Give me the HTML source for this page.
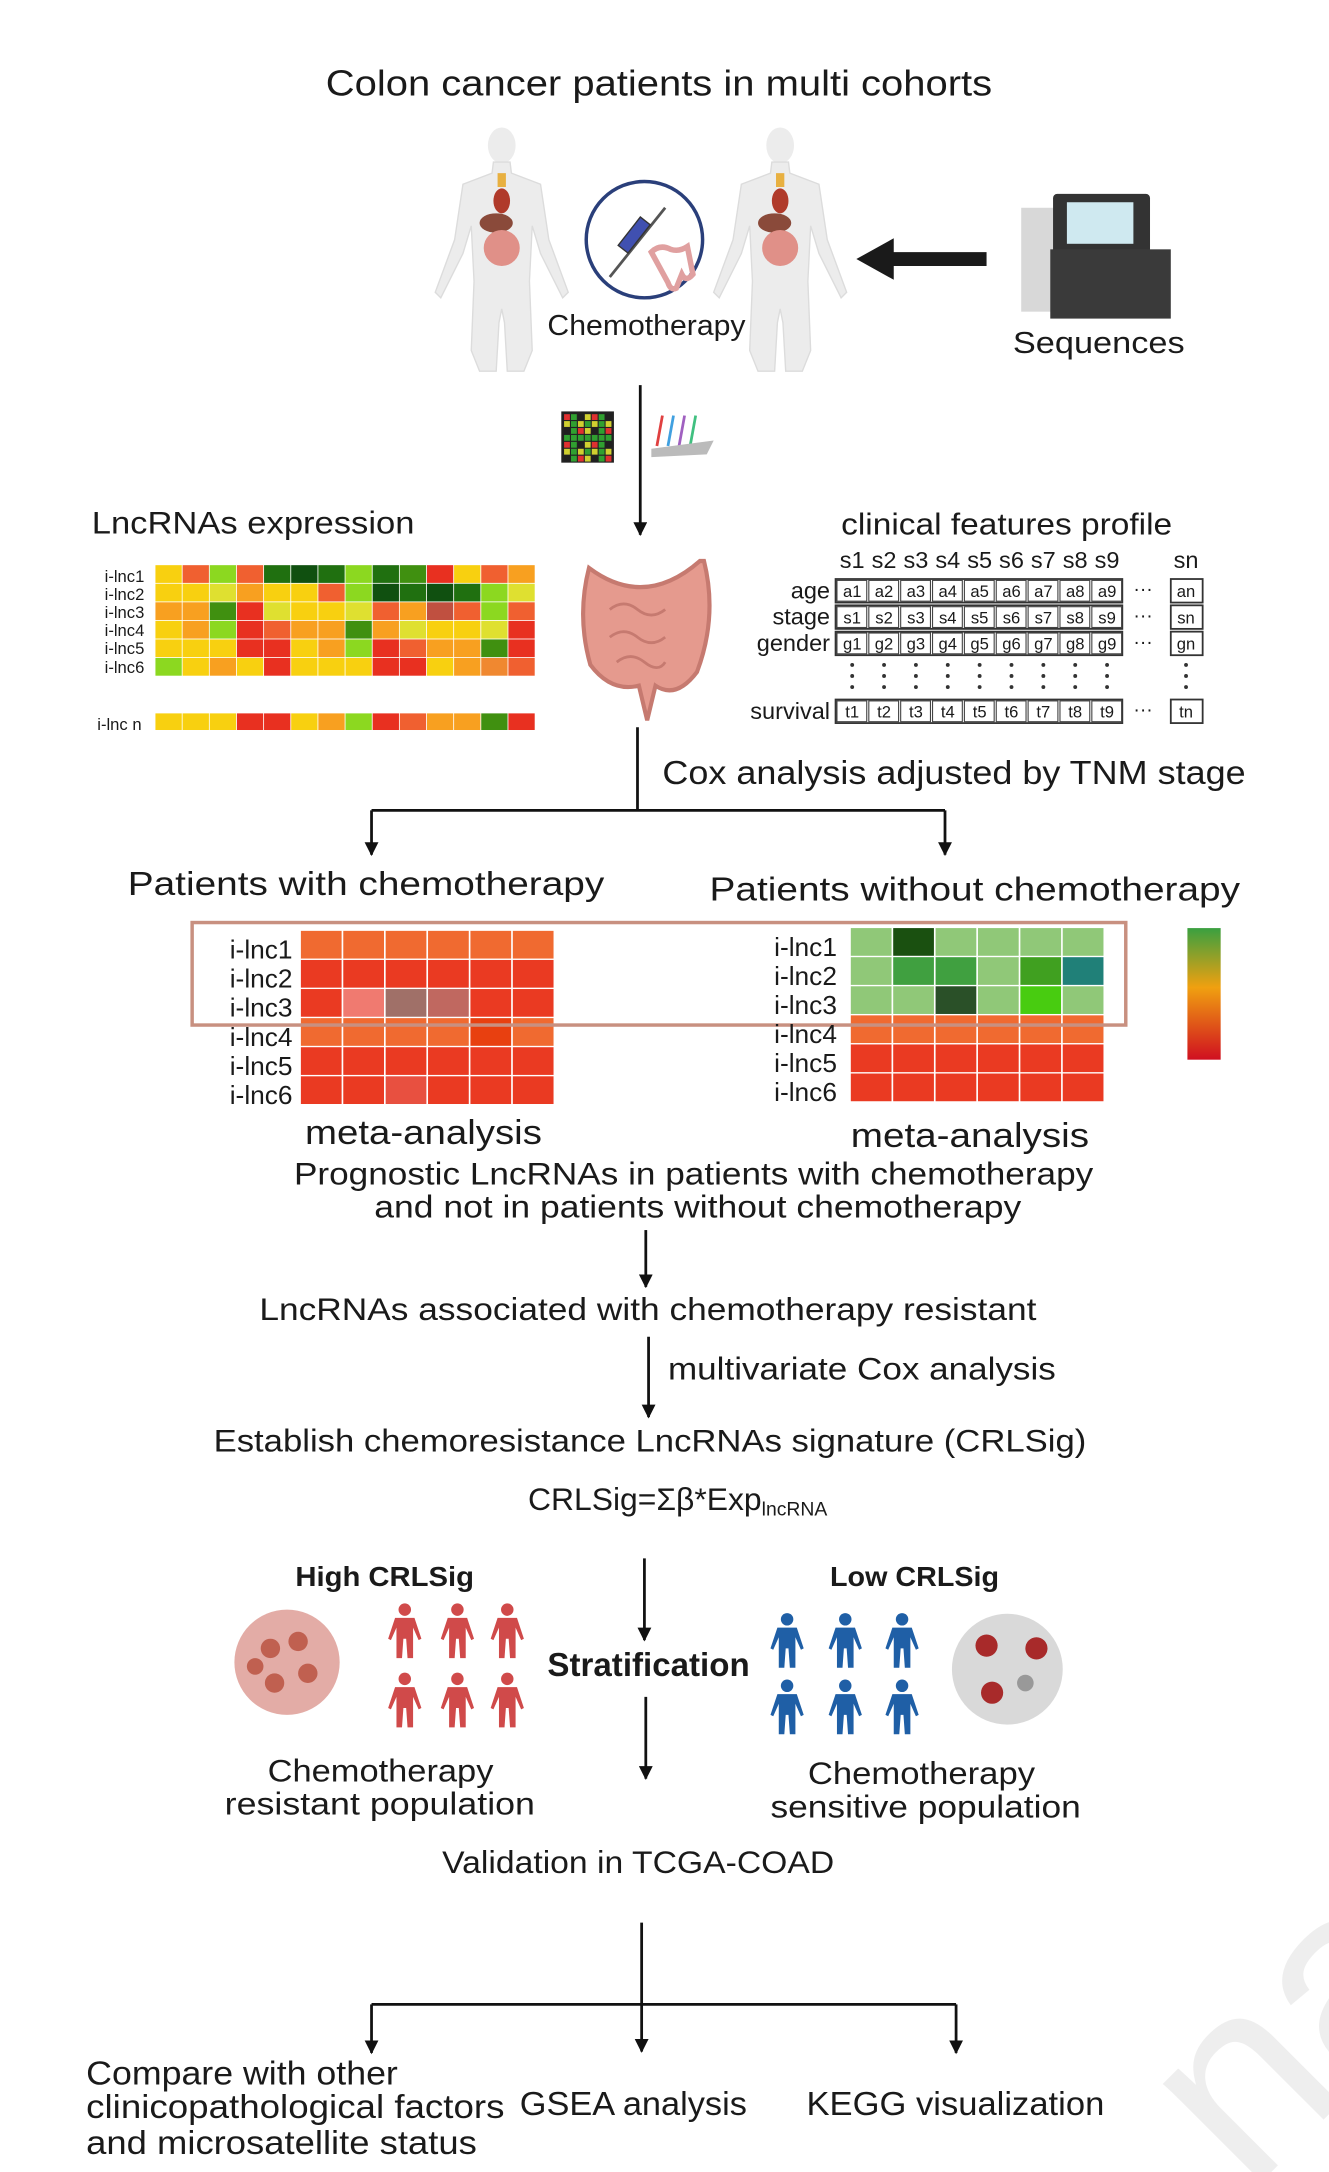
<!DOCTYPE html>
<html><head><meta charset="utf-8">
<style>
html,body{margin:0;padding:0;background:#fff;}
svg{display:block;}
text{font-family:"Liberation Sans",sans-serif;fill:#1a1a1a;}
</style></head><body>
<svg id="s" width="1329" height="2172" viewBox="0 0 959 1568" xmlns="http://www.w3.org/2000/svg">
<defs>
<marker id="ah" markerWidth="10" markerHeight="10" refX="9" refY="5" orient="auto" markerUnits="userSpaceOnUse">
<path d="M0,0 L10,5 L0,10 Z" fill="#111"/></marker>
<linearGradient id="gb" x1="0" y1="0" x2="0" y2="1">
<stop offset="0" stop-color="#3aa040"/><stop offset="0.45" stop-color="#f0a010"/><stop offset="1" stop-color="#d01020"/></linearGradient>
<g id="body">
<ellipse cx="0" cy="12" rx="10" ry="13" fill="#ececec"/>
<path d="M-6,24 L6,24 L7,32 L28,40 L34,80 L48,118 L44,122 L28,90 L22,70 L20,110 L22,160 L16,175 L4,175 L2,140 L0,130 L-2,140 L-4,175 L-16,175 L-22,160 L-20,110 L-22,70 L-28,90 L-44,122 L-48,118 L-34,80 L-28,40 L-7,32 Z" fill="#ececec" stroke="#dcdcdc" stroke-width="1"/>
<ellipse cx="0" cy="52" rx="6" ry="9" fill="#b03a2a"/>
<ellipse cx="-4" cy="68" rx="12" ry="7" fill="#8a4a3a"/>
<ellipse cx="0" cy="86" rx="13" ry="13" fill="#e09088"/>
<rect x="-3" y="32" width="6" height="10" fill="#e8b040"/>
</g>
<g id="pr"><circle cx="0" cy="-13" r="4.5"/><path d="M-7,-7 L7,-7 L12,8 L10,9 L6,0 L6,22 L2,22 L1,8 L-1,8 L-2,22 L-6,22 L-6,0 L-10,9 L-12,8 Z"/></g>
</defs>

<text x="235" y="69" font-size="26" textLength="481" lengthAdjust="spacingAndGlyphs">Colon cancer patients in multi cohorts</text>
<use href="#body" x="362" y="93"/>
<use href="#body" x="563" y="93"/>
<circle cx="465" cy="173" r="42" fill="#fff" stroke="#2a3f7a" stroke-width="2.5"/>
<line x1="440" y1="200" x2="480" y2="150" stroke="#555" stroke-width="2"/>
<rect x="445" y="165" width="26" height="9" transform="rotate(-52 458 170)" fill="#4050b0" stroke="#333"/>
<path d="M470,182 q6,-6 14,-2 q6,2 12,-2 l4,20 q-5,6 -8,0 l-4,10 q-4,2 -6,-4 z" fill="none" stroke="#e0a0a0" stroke-width="4"/>
<text x="395" y="242" font-size="21" textLength="143" lengthAdjust="spacingAndGlyphs">Chemotherapy</text>
<path d="M712,182 L645,182 L645,172 L618,187 L645,202 L645,192 L712,192 Z" fill="#1a1a1a"/>
<rect x="737" y="150" width="28" height="75" fill="#d8d8d8"/>
<rect x="760" y="140" width="70" height="45" rx="3" fill="#333"/>
<rect x="770" y="146" width="48" height="30" fill="#cfe9f0"/>
<rect x="758" y="180" width="87" height="50" fill="#3a3a3a"/>
<text x="731" y="255" font-size="22" textLength="124" lengthAdjust="spacingAndGlyphs">Sequences</text>

<line x1="462" y1="278" x2="462" y2="386" stroke="#111" stroke-width="2" marker-end="url(#ah)"/>
<g id="micro"></g>
<g transform="translate(470,300)" stroke-width="2"><line x1="8" y1="0" x2="4" y2="22" stroke="#e04040"/><line x1="16" y1="0" x2="12" y2="22" stroke="#40a0e0"/><line x1="24" y1="0" x2="20" y2="22" stroke="#a060c0"/><line x1="32" y1="0" x2="28" y2="22" stroke="#40c080"/><path d="M0,24 L45,18 L40,28 L0,30Z" fill="#bbb" stroke="none"/></g>

<text x="66" y="385" font-size="23" textLength="233" lengthAdjust="spacingAndGlyphs">LncRNAs expression</text>
<g font-size="12" text-anchor="end">
<text x="104" y="420">i-lnc1</text><text x="104" y="433">i-lnc2</text><text x="104" y="446">i-lnc3</text><text x="104" y="459">i-lnc4</text><text x="104" y="472">i-lnc5</text><text x="104" y="486">i-lnc6</text><text x="102" y="527">i-lnc n</text></g>
<g id="hm1"></g>
<g>
<path d="M425,410 q40,30 80,-5 l3,0 q10,40 -5,80 q-15,20 -30,10 l-6,25 l-6,-25 q-20,5 -35,-15 q-10,-35 -1,-70z" fill="#e59a8e" stroke="#c67a70" stroke-width="3"/>
<path d="M440,440 q10,-8 20,0 q10,8 20,0 M440,460 q10,-8 20,0 q10,8 20,0 M445,478 q10,-8 20,0 q10,8 15,0" stroke="#c67a70" stroke-width="2" fill="none"/>
</g>
<text x="607" y="386" font-size="22" textLength="239" lengthAdjust="spacingAndGlyphs">clinical features profile</text>
<g id="clin" font-size="17"></g>

<line x1="460" y1="525" x2="460" y2="585" stroke="#111" stroke-width="2"/>
<line x1="268" y1="585" x2="682" y2="585" stroke="#111" stroke-width="2"/>
<line x1="268" y1="585" x2="268" y2="617" stroke="#111" stroke-width="2" marker-end="url(#ah)"/>
<line x1="682" y1="585" x2="682" y2="617" stroke="#111" stroke-width="2" marker-end="url(#ah)"/>
<text x="478" y="566" font-size="24" textLength="421" lengthAdjust="spacingAndGlyphs">Cox analysis adjusted by TNM stage</text>
<text x="92" y="646" font-size="24" textLength="344" lengthAdjust="spacingAndGlyphs">Patients with chemotherapy</text>
<text x="512" y="650" font-size="24" textLength="383" lengthAdjust="spacingAndGlyphs">Patients without chemotherapy</text>

<g id="hm2"></g>
<rect x="138.5" y="666" width="674" height="74" fill="none" stroke="#c89080" stroke-width="2.5"/>
<g font-size="19" text-anchor="end">
<text x="211" y="692">i-lnc1</text><text x="211" y="713">i-lnc2</text><text x="211" y="734">i-lnc3</text><text x="211" y="755">i-lnc4</text><text x="211" y="776">i-lnc5</text><text x="211" y="797">i-lnc6</text>
<text x="604" y="690">i-lnc1</text><text x="604" y="711">i-lnc2</text><text x="604" y="732">i-lnc3</text><text x="604" y="753">i-lnc4</text><text x="604" y="774">i-lnc5</text><text x="604" y="795">i-lnc6</text></g>
<rect x="857" y="670" width="24" height="95" fill="url(#gb)"/>
<text x="220" y="826" font-size="25" textLength="171" lengthAdjust="spacingAndGlyphs">meta-analysis</text>
<text x="614" y="828" font-size="25" textLength="172" lengthAdjust="spacingAndGlyphs">meta-analysis</text>
<text x="212" y="855" font-size="23" textLength="577" lengthAdjust="spacingAndGlyphs">Prognostic LncRNAs in patients with chemotherapy</text>
<text x="270" y="879" font-size="23" textLength="467" lengthAdjust="spacingAndGlyphs">and not in patients without chemotherapy</text>
<line x1="466" y1="888" x2="466" y2="929" stroke="#111" stroke-width="2" marker-end="url(#ah)"/>
<text x="187" y="953" font-size="23" textLength="561" lengthAdjust="spacingAndGlyphs">LncRNAs associated with chemotherapy resistant</text>
<line x1="468" y1="965" x2="468" y2="1023" stroke="#111" stroke-width="2" marker-end="url(#ah)"/>
<text x="482" y="996" font-size="23" textLength="280" lengthAdjust="spacingAndGlyphs">multivariate Cox analysis</text>
<text x="154" y="1048" font-size="23" textLength="630" lengthAdjust="spacingAndGlyphs">Establish chemoresistance LncRNAs signature (CRLSig)</text>
<text x="381" y="1090" font-size="23">CRLSig=Σβ*Exp<tspan font-size="14" dy="4">lncRNA</tspan></text>
<line x1="465" y1="1125" x2="465" y2="1184" stroke="#111" stroke-width="2" marker-end="url(#ah)"/>
<text x="213" y="1145" font-size="20" font-weight="bold" textLength="129" lengthAdjust="spacingAndGlyphs">High CRLSig</text>
<text x="599" y="1145" font-size="20" font-weight="bold" textLength="122" lengthAdjust="spacingAndGlyphs">Low CRLSig</text>
<text x="395" y="1210" font-size="24" font-weight="bold" textLength="146" lengthAdjust="spacingAndGlyphs">Stratification</text>
<line x1="466" y1="1225" x2="466" y2="1284" stroke="#111" stroke-width="2" marker-end="url(#ah)"/>
<g><circle cx="207" cy="1200" r="38" fill="#d99088" opacity="0.75"/><circle cx="195" cy="1190" r="7" fill="#c06050"/><circle cx="215" cy="1185" r="7" fill="#c06050"/><circle cx="222" cy="1208" r="7" fill="#c06050"/><circle cx="198" cy="1215" r="7" fill="#c06050"/><circle cx="184" cy="1203" r="6" fill="#c06050"/></g>
<g><circle cx="727" cy="1205" r="40" fill="#cfcfcf" opacity="0.8"/><circle cx="712" cy="1188" r="8" fill="#a82a2a"/><circle cx="748" cy="1190" r="8" fill="#a82a2a"/><circle cx="716" cy="1222" r="8" fill="#a82a2a"/><circle cx="740" cy="1215" r="6" fill="#999"/></g>
<g fill="#d04a4a">
<use href="#pr" x="292" y="1175"/><use href="#pr" x="330" y="1175"/><use href="#pr" x="366" y="1175"/>
<use href="#pr" x="292" y="1225"/><use href="#pr" x="330" y="1225"/><use href="#pr" x="366" y="1225"/></g>
<g fill="#1f5fa6">
<use href="#pr" x="568" y="1182"/><use href="#pr" x="610" y="1182"/><use href="#pr" x="651" y="1182"/>
<use href="#pr" x="568" y="1230"/><use href="#pr" x="610" y="1230"/><use href="#pr" x="651" y="1230"/></g>
<text x="193" y="1286" font-size="23" textLength="163" lengthAdjust="spacingAndGlyphs">Chemotherapy</text>
<text x="162" y="1310" font-size="23" textLength="224" lengthAdjust="spacingAndGlyphs">resistant population</text>
<text x="583" y="1288" font-size="23" textLength="164" lengthAdjust="spacingAndGlyphs">Chemotherapy</text>
<text x="556" y="1312" font-size="23" textLength="224" lengthAdjust="spacingAndGlyphs">sensitive population</text>
<text x="319" y="1352" font-size="23" textLength="283" lengthAdjust="spacingAndGlyphs">Validation in TCGA-COAD</text>
<line x1="463" y1="1388" x2="463" y2="1481" stroke="#111" stroke-width="2" marker-end="url(#ah)"/>
<line x1="268" y1="1447" x2="690" y2="1447" stroke="#111" stroke-width="2"/>
<line x1="268" y1="1447" x2="268" y2="1482" stroke="#111" stroke-width="2" marker-end="url(#ah)"/>
<line x1="690" y1="1447" x2="690" y2="1482" stroke="#111" stroke-width="2" marker-end="url(#ah)"/>
<text x="62" y="1505" font-size="24" textLength="225" lengthAdjust="spacingAndGlyphs">Compare with other</text>
<text x="62" y="1529" font-size="24" textLength="302" lengthAdjust="spacingAndGlyphs">clinicopathological factors</text>
<text x="62" y="1555" font-size="24" textLength="282" lengthAdjust="spacingAndGlyphs">and microsatellite status</text>
<text x="375" y="1527" font-size="24" textLength="164" lengthAdjust="spacingAndGlyphs">GSEA analysis</text>
<text x="582" y="1527" font-size="24" textLength="215" lengthAdjust="spacingAndGlyphs">KEGG visualization</text>
<text x="800" y="1560" font-size="190" style="fill:#ebebeb" transform="rotate(-45 880 1450)" opacity="0.8">nal</text>
</svg>
<script>
var NS="http://www.w3.org/2000/svg";
function R(g,x,y,w,h,c,extra){var r=document.createElementNS(NS,"rect");r.setAttribute("x",x);r.setAttribute("y",y);r.setAttribute("width",w);r.setAttribute("height",h);r.setAttribute("fill",c);if(extra)for(var k in extra)r.setAttribute(k,extra[k]);g.appendChild(r);}
var C={Y:"#f8d010",O:"#f06030",L:"#8cd820",D:"#207010",K:"#105010",G:"#409010",R:"#e83020",A:"#f8a020",W:"#dfe030",B:"#c05040",E:"#f08830"};
var rows=["YOLODKDLDGRYOA","YYWAYYOLKDKDLW","AAGRWYYWOABOLO","YALROAAGAWYYWR","YYYRRYALROAAGR","LYAYRYYYRRYAEO"];
var g=document.getElementById("hm1");
rows.forEach(function(r,i){for(var j=0;j<14;j++)R(g,112+j*19.6,408+i*13.4,19,12.8,C[r[j]]);});
var n="YYYRRYALROAAGR";for(var j=0;j<14;j++)R(g,112+j*19.6,515,19,12,C[n[j]]);
var m=document.getElementById("micro");R(m,405,297,38,37,"#222");
var mc=["#e03030","#30a030","#202020","#d0d030"];
for(var i=0;i<7;i++)for(var j=0;j<7;j++)R(m,407+j*5,299+i*5,4.2,4.2,mc[(i*3+j*5+i*j)%4]);
var h=document.getElementById("hm2");
var L=[["#f06a30","#f06a30","#f06a30","#f06a30","#f06a30","#f06a30"],["#ea3a22","#ea3a22","#ea3a22","#ea3a22","#ea3a22","#ea3a22"],["#ea3a22","#f07a70","#a07068","#c06860","#ea3a22","#ea3a22"],["#f06a30","#f06a30","#f06a30","#f06a30","#e84010","#f06a30"],["#ea3a22","#ea3a22","#ea3a22","#ea3a22","#ea3a22","#ea3a22"],["#ea3a22","#ea3a22","#e85040","#ea3a22","#ea3a22","#ea3a22"]];
var Rt=[["#90c878","#1a5010","#90c878","#90c878","#90c878","#90c878"],["#90c878","#40a040","#40a040","#90c878","#40a020","#208078"],["#90c878","#90c878","#2a5028","#90c878","#48cc10","#90c878"],["#f06a30","#f06a30","#f06a30","#f06a30","#f06a30","#f06a30"],["#ea3a22","#ea3a22","#ea3a22","#ea3a22","#ea3a22","#ea3a22"],["#ea3a22","#ea3a22","#ea3a22","#ea3a22","#ea3a22","#ea3a22"]];
for(var i=0;i<6;i++)for(var j=0;j<6;j++){R(h,217+j*30.6,672+i*21,29.4,20,L[i][j]);R(h,614+j*30.6,670+i*21,29.4,20,Rt[i][j]);}
var cl=document.getElementById("clin");
function T(x,y,s,a,fs){var t=document.createElementNS(NS,"text");t.setAttribute("x",x);t.setAttribute("y",y);t.textContent=s;if(a)t.setAttribute("text-anchor",a);if(fs)t.setAttribute("font-size",fs);cl.appendChild(t);}
for(var j=0;j<9;j++)T(615+j*23,410,"s"+(j+1),"middle",17);
T(856,410,"sn","middle",17);
var rl=[["age","a",418],["stage","s",437],["gender","g",456]];
rl.forEach(function(r){T(599,r[2]+14,r[0],"end",17);R(cl,603,r[2],207,17,"none",{stroke:"#333","stroke-width":1.3});
for(var j=0;j<9;j++){R(cl,604+j*23,r[2]+1,21.5,15,"none",{stroke:"#444","stroke-width":0.8});T(615+j*23,r[2]+13,r[1]+(j+1),"middle",12);}
T(825,r[2]+12,"···","middle",14);R(cl,845,r[2],23,17,"none",{stroke:"#333","stroke-width":1.3});T(856,r[2]+13,r[1]+"n","middle",12);});
T(599,519,"survival","end",17);R(cl,603,505,207,17,"none",{stroke:"#333","stroke-width":1.3});
for(var j=0;j<9;j++){R(cl,604+j*23,506,21.5,15,"none",{stroke:"#444","stroke-width":0.8});T(615+j*23,518,"t"+(j+1),"middle",12);}
T(825,517,"···","middle",14);R(cl,845,505,23,17,"none",{stroke:"#333","stroke-width":1.3});T(856,518,"tn","middle",12);
for(var j=0;j<10;j++){var x=j<9?615+j*23:856;for(var k=0;k<3;k++){var c=document.createElementNS(NS,"circle");c.setAttribute("cx",x);c.setAttribute("cy",480+k*8);c.setAttribute("r",1.4);c.setAttribute("fill","#333");cl.appendChild(c);}}
</script>
</body></html>
